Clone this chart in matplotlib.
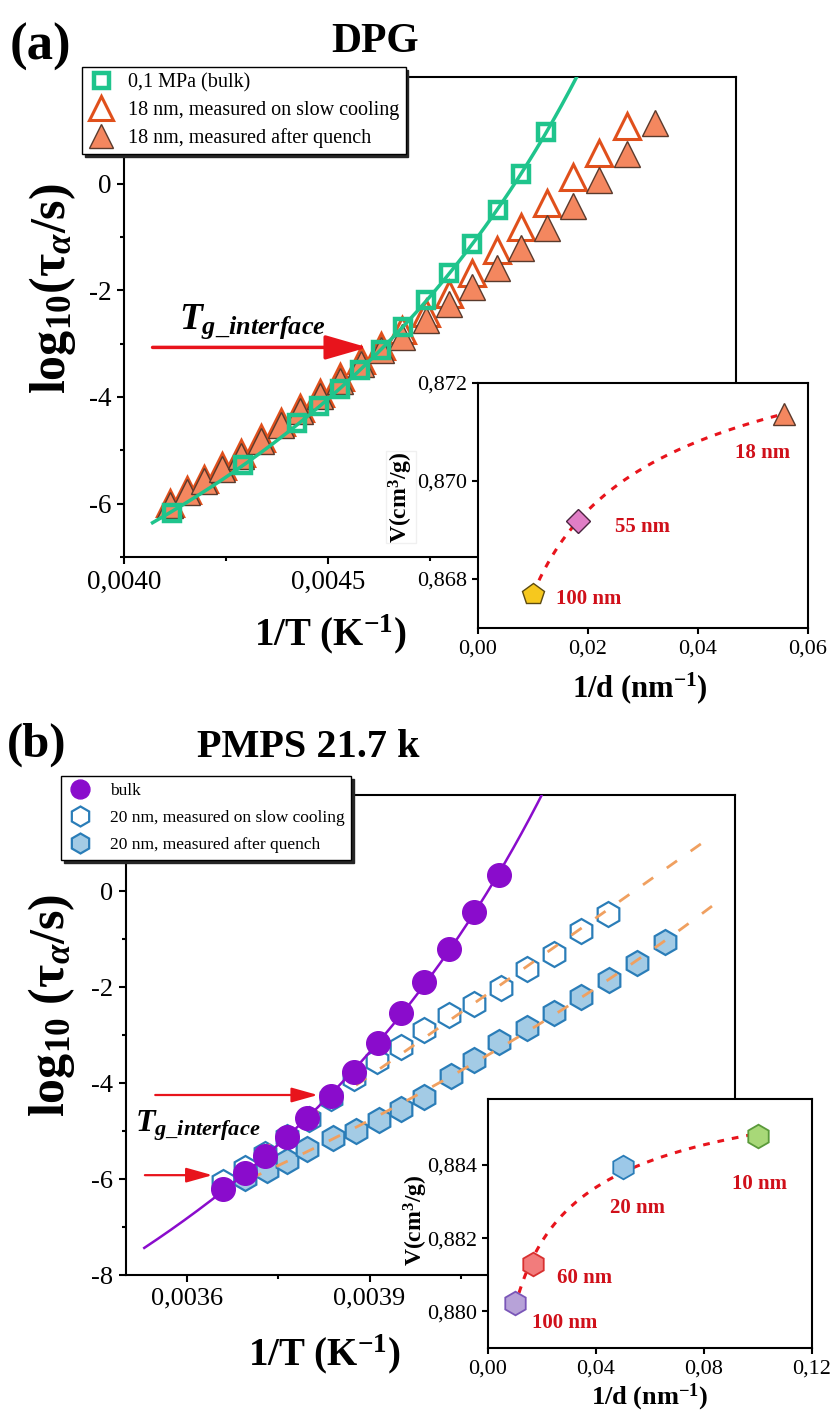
import numpy as np
import matplotlib
matplotlib.use('Agg')
import matplotlib.pyplot as plt
from matplotlib.ticker import FuncFormatter, MultipleLocator, FixedLocator

plt.rcParams['font.family'] = 'Liberation Serif'
plt.rcParams['mathtext.fontset'] = 'custom'
plt.rcParams['mathtext.rm'] = 'Liberation Serif:bold'
plt.rcParams['mathtext.it'] = 'Liberation Serif:bold:italic'
plt.rcParams['mathtext.bf'] = 'Liberation Serif:bold'
plt.rcParams['axes.unicode_minus'] = False

# ---- DPG: relaxation map (1/T, log tau) ----
dpg_bulk_x = [0.004117, 0.004291, 0.004425, 0.004478, 0.004529, 0.004578, 0.004631,
              0.004684, 0.00474, 0.004796, 0.004854, 0.004917, 0.004973, 0.005034]
dpg_bulk_y = [-6.17, -5.27, -4.49, -4.17, -3.85, -3.50, -3.12,
              -2.69, -2.19, -1.68, -1.14, -0.50, 0.19, 0.97]

dpg_quench_x = [0.004112, 0.004155, 0.004197, 0.00424, 0.004286, 0.004335, 0.004386,
                0.004432, 0.004481, 0.004529, 0.00458, 0.004631, 0.004682, 0.00474,
                0.004796, 0.004854, 0.004913, 0.004973, 0.005036, 0.0051, 0.005165,
                0.005233, 0.005301]
dpg_quench_y = [-6.02, -5.79, -5.57, -5.35, -5.10, -4.82, -4.52,
                -4.26, -3.98, -3.70, -3.38, -3.12, -2.88, -2.56,
                -2.26, -1.94, -1.59, -1.21, -0.84, -0.41, 0.06,
                0.56, 1.14]

dpg_slow_x = dpg_quench_x[:-1]
dpg_slow_y = [-5.98, -5.75, -5.53, -5.30, -5.05, -4.77, -4.47,
              -4.20, -3.92, -3.63, -3.30, -3.04, -2.75, -2.43,
              -2.06, -1.68, -1.25, -0.82, -0.37, 0.13, 0.58,
              1.08]

# DPG specific volume vs 1/d
dpg_inv_d = [0.01, 0.0182, 0.0556]
dpg_vol = [0.86770, 0.86919, 0.87137]
dpg_sizes = ['100 nm', '55 nm', '18 nm']

# ---- PMPS 21.7k ----
pmps_bulk_x = [0.00366, 0.003695, 0.003729, 0.003765, 0.003798, 0.003836, 0.003874,
               0.003914, 0.003952, 0.00399, 0.004031, 0.004072, 0.004112]
pmps_bulk_y = [-6.21, -5.87, -5.52, -5.13, -4.73, -4.27, -3.77,
               -3.17, -2.54, -1.90, -1.21, -0.44, 0.33]

pmps_slow_x = [0.00366, 0.003695, 0.003729, 0.003765, 0.0038, 0.003836, 0.003874,
               0.003912, 0.003952, 0.00399, 0.004031, 0.004072, 0.004115, 0.004158,
               0.004202, 0.004247, 0.004291]
pmps_slow_y = [-6.06, -5.78, -5.48, -5.13, -4.76, -4.31, -3.90,
               -3.54, -3.25, -2.90, -2.58, -2.35, -2.02, -1.63,
               -1.31, -0.83, -0.48]

pmps_quench_x = [0.003696, 0.003732, 0.003765, 0.003798, 0.00384, 0.003877, 0.003915,
                 0.003952, 0.00399, 0.004034, 0.004072, 0.004113, 0.004158, 0.004202,
                 0.004247, 0.004293, 0.004339, 0.004385]
pmps_quench_y = [-5.98, -5.81, -5.62, -5.375, -5.15, -5.0, -4.77,
                 -4.54, -4.29, -3.85, -3.52, -3.15, -2.85, -2.54,
                 -2.21, -1.85, -1.50, -1.06]

pmps_inv_d = [0.01, 0.0167, 0.05, 0.1]
pmps_vol = [0.88022, 0.88129, 0.88395, 0.88479]
pmps_sizes = ['100 nm', '60 nm', '20 nm', '10 nm']


def vft_fit(x, y):
    # log tau = A + B/(T - T0), T0 found by scanning, A and B by least squares
    T = 1.0 / np.asarray(x)
    y = np.asarray(y)
    best = None
    for T0 in np.linspace(20, T.min() - 2, 600):
        M = np.column_stack([np.ones_like(T), 1.0 / (T - T0)])
        coef, res, *_ = np.linalg.lstsq(M, y, rcond=None)
        err = np.sum((M @ coef - y) ** 2)
        if best is None or err < best[0]:
            best = (err, T0, coef)
    _, T0, (A, B) = best
    return lambda xx: A + B / (1.0 / np.asarray(xx) - T0)


def log_fit(x, y, deg=2):
    p = np.polyfit(np.log10(x), y, deg)
    return lambda xx: np.polyval(p, np.log10(xx))


def comma(fmt):
    return FuncFormatter(lambda v, pos: format(v, fmt).replace('.', ','))


def style_axes(ax, size, major=5, minor=3):
    for s in ax.spines.values():
        s.set_linewidth(1.5)
    ax.tick_params(which='both', direction='out', top=False, right=False, width=1.5)
    ax.tick_params(which='major', length=major, labelsize=size, pad=4)
    ax.tick_params(which='minor', length=minor)


W, H = 832, 1414
fig = plt.figure(figsize=(W / 100, H / 100), dpi=100)


def px_axes(l, t, r, b):
    return fig.add_axes([l / W, 1 - b / H, (r - l) / W, (b - t) / H])


red = '#e8141c'
green = '#1fc48c'
tri_edge = '#e0501c'
tri_fill = '#f4875f'

# ================= (a) DPG =================
ax = px_axes(124, 77, 736, 557)
ax.plot(dpg_slow_x, dpg_slow_y, '^', ms=19, mfc='white', mec=tri_edge, mew=2.2,
        ls='none', label='18 nm, measured on slow cooling', zorder=2)
ax.plot(dpg_quench_x, dpg_quench_y, '^', ms=19, mfc=tri_fill, mec='#5a3a2c', mew=1.0,
        ls='none', label='18 nm, measured after quench', zorder=3)
fit_a = vft_fit(dpg_bulk_x, dpg_bulk_y)
xs = np.linspace(0.00407, 0.00511, 300)
ax.plot(xs, fit_a(xs), color=green, lw=2.5, zorder=4)
ax.plot(dpg_bulk_x, dpg_bulk_y, 's', ms=12, mfc='none', mec=green, mew=3.2,
        ls='none', label='0,1 MPa (bulk)', zorder=5)

ax.set_xlim(0.0040, 0.0055)
ax.set_ylim(-7, 2)
ax.xaxis.set_major_locator(MultipleLocator(0.0005))
ax.xaxis.set_minor_locator(MultipleLocator(0.00025))
ax.yaxis.set_major_locator(FixedLocator([-6, -4, -2, 0]))
ax.yaxis.set_minor_locator(MultipleLocator(1))
ax.xaxis.set_major_formatter(comma('.4f'))
ax.yaxis.set_major_formatter(comma('.0f'))
style_axes(ax, 19.5)
ax.set_xlabel(r'1/T (K$^{-1}$)', fontsize=28, fontweight='bold')
ax.xaxis.set_label_coords(0.337, -0.115)
ax.set_ylabel(r'log$_{10}$(τ$_{α}$/s)', fontsize=36, fontweight='bold')
ax.yaxis.set_label_coords(-0.075, 0.56)

h, l = ax.get_legend_handles_labels()
order = [2, 0, 1]
ax.legend([h[i] for i in order], [l[i] for i in order], loc='upper left',
          bbox_to_anchor=(82 / W, 1 - 67 / H), bbox_transform=fig.transFigure,
          borderaxespad=0, fontsize=14.5, frameon=True, fancybox=False,
          edgecolor='black', framealpha=1, shadow={'color': '0.15', 'alpha': 1},
          handlelength=1.3, handletextpad=0.7, labelspacing=0.42, borderpad=0.3,
          markerscale=0.9)

ax.annotate('', xy=(0.004597, -3.07), xytext=(0.00407, -3.07),
            arrowprops=dict(arrowstyle='-|>,head_length=2.6,head_width=0.75',
                            color=red, lw=2.5, shrinkA=0, shrinkB=0), zorder=6)
ax.text(0.004136, -2.71, r'$T_{g\_interface}$', fontsize=27, ha='left', va='baseline')

# inset: specific volume
ia = px_axes(478, 383, 808, 628)
ia.set_facecolor('white')
xs = np.linspace(dpg_inv_d[0], dpg_inv_d[-1], 200)
ia.plot(xs, log_fit(dpg_inv_d, dpg_vol)(xs), color=red, lw=2.2, dashes=(2.2, 2.6), zorder=1)
ia.plot(dpg_inv_d[0], dpg_vol[0], 'p', ms=16, mfc='#f6c81e', mec='#5c4a10', mew=1.0, zorder=2)
ia.plot(dpg_inv_d[1], dpg_vol[1], 'D', ms=12, mfc='#e07ec6', mec='#4a2440', mew=1.0, zorder=2)
ia.plot(dpg_inv_d[2], dpg_vol[2], '^', ms=16, mfc=tri_fill, mec='#5a3a2c', mew=1.0, zorder=2)
for xt, yt, s in zip([0.0202, 0.030, 0.0518], [0.86759, 0.86906, 0.87058], dpg_sizes):
    ia.text(xt, yt, s, color='#d0101a', fontsize=15, fontweight='bold', ha='center', va='center')
ia.set_xlim(0, 0.06)
ia.set_ylim(0.867, 0.872)
ia.xaxis.set_major_locator(MultipleLocator(0.02))
ia.yaxis.set_major_locator(MultipleLocator(0.002))
ia.xaxis.set_major_formatter(comma('.2f'))
ia.yaxis.set_major_formatter(comma('.3f'))
style_axes(ia, 16, major=4)
ia.set_xlabel(r'1/d (nm$^{-1}$)', fontsize=22, fontweight='bold')
ia.xaxis.set_label_coords(0.49, -0.171)
ia.set_ylabel(r'V(cm$^{3}$/g)', fontsize=17, fontweight='bold',
              bbox=dict(facecolor='white', edgecolor='#f0f0f0', pad=0.5))
ia.yaxis.set_label_coords(-0.19, 0.535)

fig.text(10 / W, 1 - 60 / H, '(a)', fontsize=38, fontweight='bold', ha='left', va='baseline')
fig.text(375 / W, 1 - 52 / H, 'DPG', fontsize=30, fontweight='bold', ha='center', va='baseline')

# ================= (b) PMPS =================
purple = '#8a0ccc'
hex_edge = '#2a7db8'
hex_fill = '#a3cbe5'
dash_orange = '#f0a060'

bx = px_axes(126, 795, 735, 1275)
bx.plot(pmps_slow_x, pmps_slow_y, 'h', ms=18, mfc='white', mec=hex_edge, mew=1.6,
        ls='none', label='20 nm, measured on slow cooling', zorder=2)
bx.plot(pmps_quench_x, pmps_quench_y, 'h', ms=18, mfc=hex_fill, mec=hex_edge, mew=1.6,
        ls='none', label='20 nm, measured after quench', zorder=3)

fit_slow = vft_fit(pmps_slow_x, pmps_slow_y)
xs = np.linspace(0.00372, 0.00445, 300)
bx.plot(xs, fit_slow(xs), color=dash_orange, lw=2, dashes=(4.5, 6), zorder=4)
fit_q = vft_fit(pmps_quench_x, pmps_quench_y)
xs = np.linspace(0.00366, 0.004476, 300)
bx.plot(xs, fit_q(xs), color=dash_orange, lw=2, dashes=(4.5, 6), zorder=4)

fit_b = vft_fit(pmps_bulk_x, pmps_bulk_y)
xs = np.linspace(0.00353, 0.004184, 300)
bx.plot(xs, fit_b(xs), color=purple, lw=1.8, zorder=5)
bx.plot(pmps_bulk_x, pmps_bulk_y, 'o', ms=17, mfc=purple, mec=purple, ls='none',
        label='bulk', zorder=6)

bx.set_xlim(0.0035, 0.0045)
bx.set_ylim(-8, 2)
bx.xaxis.set_major_locator(MultipleLocator(0.0003))
bx.xaxis.set_minor_locator(MultipleLocator(0.00015))
bx.yaxis.set_major_locator(FixedLocator([-8, -6, -4, -2, 0]))
bx.yaxis.set_minor_locator(MultipleLocator(1))
bx.xaxis.set_major_formatter(comma('.4f'))
bx.yaxis.set_major_formatter(comma('.0f'))
style_axes(bx, 19)
bx.set_xlabel(r'1/T (K$^{-1}$)', fontsize=28, fontweight='bold')
bx.xaxis.set_label_coords(0.325, -0.119)
bx.set_ylabel(r'log$_{10}$ (τ$_{α}$/s)', fontsize=36, fontweight='bold')
bx.yaxis.set_label_coords(-0.08, 0.5625)

h, l = bx.get_legend_handles_labels()
order = [2, 0, 1]
bx.legend([h[i] for i in order], [l[i] for i in order], loc='upper left',
          bbox_to_anchor=(61 / W, 1 - 776 / H), bbox_transform=fig.transFigure,
          borderaxespad=0, fontsize=12.5, frameon=True, fancybox=False,
          edgecolor='black', framealpha=1, shadow={'color': '0.15', 'alpha': 1},
          handlelength=1.4, handletextpad=1.0, labelspacing=0.62, borderpad=0.4,
          markerscale=0.8)

for x0, x1, yy in [(0.003548, 0.003815, -4.25), (0.003531, 0.003642, -5.92)]:
    bx.annotate('', xy=(x1, yy), xytext=(x0, yy),
                arrowprops=dict(arrowstyle='-|>,head_length=1.6,head_width=0.45',
                                color=red, lw=1.6, shrinkA=0, shrinkB=0), zorder=7)
bx.text(0.003515, -5.02, r'$T_{g\_interface}$', fontsize=23, ha='left', va='baseline')

ib = px_axes(488, 1099, 812, 1348)
ib.set_facecolor('white')
xs = np.linspace(pmps_inv_d[0], pmps_inv_d[-1], 200)
ib.plot(xs, log_fit(pmps_inv_d, pmps_vol)(xs), color=red, lw=2.2, dashes=(2.2, 2.6), zorder=1)
inset_fill = ['#b7a2d8', '#f27c7c', '#9cc8e8', '#a8d878']
inset_edge = ['#7a56b8', '#d83030', '#2a7db8', '#5a9a3a']
for xv, yv, fc, ec in zip(pmps_inv_d, pmps_vol, inset_fill, inset_edge):
    ib.plot(xv, yv, 'h', ms=17, mfc=fc, mec=ec, mew=1.3, zorder=2)
for xt, yt, s in zip([0.0284, 0.0358, 0.0554, 0.1005], [0.87967, 0.8809, 0.88282, 0.88348], pmps_sizes):
    ib.text(xt, yt, s, color='#d0101a', fontsize=15, fontweight='bold', ha='center', va='center')
ib.set_xlim(0, 0.12)
ib.set_ylim(0.879, 0.8858)
ib.xaxis.set_major_locator(MultipleLocator(0.04))
ib.yaxis.set_major_locator(MultipleLocator(0.002))
ib.xaxis.set_major_formatter(comma('.2f'))
ib.yaxis.set_major_formatter(comma('.3f'))
style_axes(ib, 16, major=4)
ib.set_xlabel(r'1/d (nm$^{-1}$)', fontsize=19, fontweight='bold')
ib.xaxis.set_label_coords(0.5, -0.137)
ib.set_ylabel(r'V(cm$^{3}$/g)', fontsize=17, fontweight='bold')
ib.yaxis.set_label_coords(-0.179, 0.514)

fig.text(7 / W, 1 - 757 / H, '(b)', fontsize=35, fontweight='bold', ha='left', va='baseline')
fig.text(308 / W, 1 - 757 / H, 'PMPS 21.7 k', fontsize=29, fontweight='bold', ha='center', va='baseline')

fig.savefig('out.png', dpi=100)
